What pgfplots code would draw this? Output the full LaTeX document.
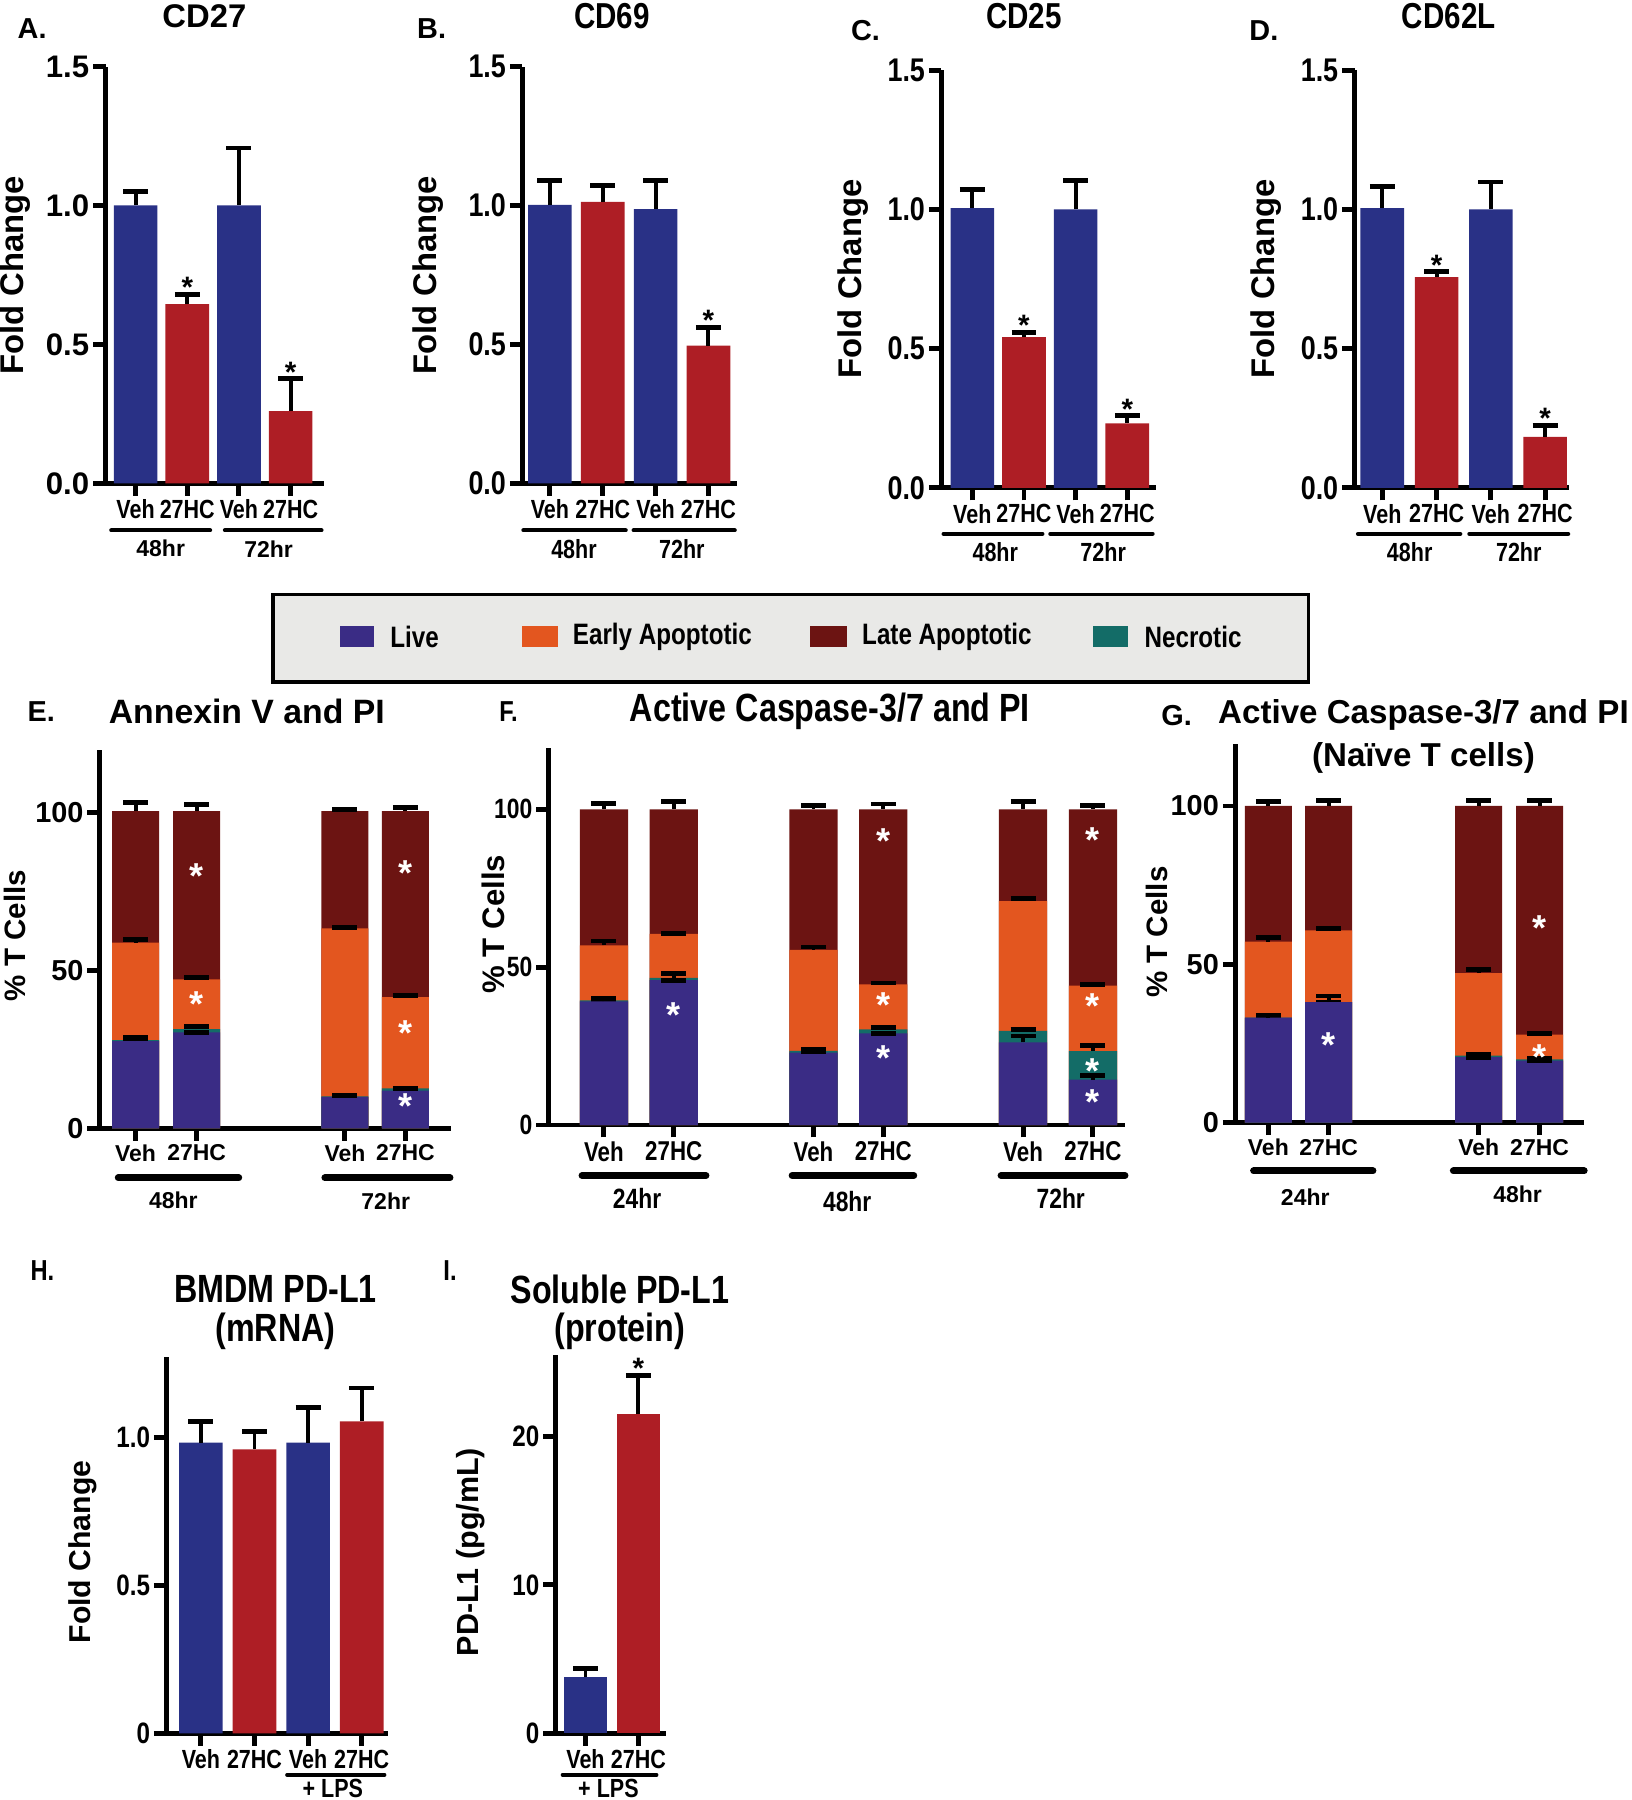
\documentclass[border=0pt]{standalone}
\usepackage{fontspec}
\setmainfont{Liberation Sans}
\newfontfamily\narrow{Liberation Sans}[FakeStretch=0.82]
\usepackage{pgfplots}
\pgfplotsset{compat=1.18}

\definecolor{barblue}{HTML}{293186}
\definecolor{barred}{HTML}{AE1E25}
\definecolor{live}{HTML}{3A2C85}
\definecolor{early}{HTML}{E3561F}
\definecolor{late}{HTML}{6C1412}
\definecolor{necro}{HTML}{136C67}
\definecolor{legbg}{HTML}{E9E9E7}

% font helpers (size in pt)
\newcommand\fnt[1]{\bfseries\fontsize{#1}{#1}\selectfont}
\newcommand\nfnt[1]{\narrow\bfseries\fontsize{#1}{#1}\selectfont}

\pgfplotsset{
  panel/.style={
    scale only axis, anchor=south west, clip=false,
    axis x line*=bottom, axis y line*=left,
    axis line style={-, line width=1.5pt},
    tick align=outside, major tick length=3.8pt,
    tick style={black, line width=1.5pt},
    yticklabel style={inner sep=1pt},
    ymin=0,
  },
  bars/.style={ybar, bar shift=0pt, bar width=#1, draw=none,
    error bars/y dir=plus, error bars/y explicit,
    error bars/error bar style={black, line width=1.2pt},
    error bars/error mark options={rotate=90, black, mark size=3.8pt, line width=1.5pt},
  },
}
\tikzset{
  star/.style={font=\fnt{9}, anchor=base, inner sep=0pt, yshift=-1pt},
  wstar/.style={text=white, font=\fnt{11}, anchor=base, inner sep=0pt, yshift=-6.4pt},
}

\begin{document}
\begin{tikzpicture}[x=0.35pt, y=-0.35pt]
\useasboundingbox (0,0) rectangle (1421,1568);
% axis origins (reference pixel positions)
\coordinate (oA) at (92,421);
\coordinate (oB) at (455,421);
\coordinate (oC) at (820,425);
\coordinate (oD) at (1180,425);
\coordinate (oE) at (87,983);
\coordinate (oF) at (478,980);
\coordinate (oG) at (1076,978);
\coordinate (oH) at (145,1510);
\coordinate (oI) at (484,1510);

% ---------- A. CD27 ----------
\begin{axis}[panel, at={(oA)}, width=66.5pt, height=127.05pt,
  xmin=0.42, xmax=4.64, ymax=1.5,
  xtick={1,2,3,4}, xticklabels={Veh,27HC,Veh,27HC},
  ytick={0,0.5,1,1.5}, yticklabels={0.0,0.5,1.0,1.5},
  yticklabel style={font=\fnt{9.5}},
  xticklabel style={font=\nfnt{8}, inner sep=1pt}]
\addplot[fill=barblue, bars=13.3pt] coordinates {(1,1.0) +- (0,0.05) (3,1.0) +- (0,0.207)};
\addplot[fill=barred, bars=13.3pt] coordinates {(2,0.645) +- (0,0.035) (4,0.26) +- (0,0.116)};
\node[star] at (axis cs:2,0.68) {*};
\node[star] at (axis cs:4,0.376) {*};
\end{axis}

% ---------- B. CD69 ----------
\begin{axis}[panel, at={(oB)}, width=65.45pt, height=127.05pt,
  xmin=0.478, xmax=4.54, ymax=1.5,
  xtick={1,2,3,4}, xticklabels={Veh,27HC,Veh,27HC},
  ytick={0,0.5,1,1.5}, yticklabels={0.0,0.5,1.0,1.5},
  yticklabel style={font=\nfnt{10}},
  xticklabel style={font=\nfnt{8}, inner sep=1pt}]
\addplot[fill=barblue, bars=13.3pt] coordinates {(1,1.002) +- (0,0.087) (3,0.987) +- (0,0.104)};
\addplot[fill=barred, bars=13.3pt] coordinates {(2,1.013) +- (0,0.06) (4,0.496) +- (0,0.065)};
\node[star] at (axis cs:4,0.561) {*};
\end{axis}

% ---------- C. CD25 ----------
\begin{axis}[panel, at={(oC)}, width=65.45pt, height=127.4pt,
  xmin=0.4, xmax=4.556, ymax=1.5,
  xtick={1,2,3,4}, xticklabels={Veh,27HC,Veh,27HC},
  ytick={0,0.5,1,1.5}, yticklabels={0.0,0.5,1.0,1.5},
  yticklabel style={font=\nfnt{10}},
  xticklabel style={font=\nfnt{8}, inner sep=1pt}]
\addplot[fill=barblue, bars=13.3pt] coordinates {(1,1.004) +- (0,0.066) (3,1.0) +- (0,0.105)};
\addplot[fill=barred, bars=13.3pt] coordinates {(2,0.541) +- (0,0.017) (4,0.232) +- (0,0.027)};
\node[star] at (axis cs:2,0.558) {*};
\node[star] at (axis cs:4,0.259) {*};
\end{axis}

% ---------- D. CD62L ----------
\begin{axis}[panel, at={(oD)}, width=65.45pt, height=127.4pt,
  xmin=0.49, xmax=4.444, ymax=1.5,
  xtick={1,2,3,4}, xticklabels={Veh,27HC,Veh,27HC},
  ytick={0,0.5,1,1.5}, yticklabels={0.0,0.5,1.0,1.5},
  yticklabel style={font=\nfnt{10}},
  xticklabel style={font=\nfnt{8}, inner sep=1pt}]
\addplot[fill=barblue, bars=13.3pt] coordinates {(1,1.004) +- (0,0.079) (3,1.0) +- (0,0.098)};
\addplot[fill=barred, bars=13.3pt] coordinates {(2,0.757) +- (0,0.019) (4,0.183) +- (0,0.041)};
\node[star] at (axis cs:2,0.776) {*};
\node[star] at (axis cs:4,0.224) {*};
\end{axis}

% ---------- E. Annexin V and PI ----------
\begin{axis}[panel, at={(oE)}, width=107.1pt, height=115.5pt,
  xmin=0.415, xmax=6.17, ymax=120,
  xtick={1,2,4.43,5.42}, xticklabels={Veh,27HC,Veh,27HC},
  ytick={0,50,100}, yticklabels={0,50,100},
  yticklabel style={font=\fnt{8.8}},
  xticklabel style={font=\fnt{7}, inner sep=1pt}]
\addplot[fill=late, bars=14.35pt] coordinates {(1,100.5) +- (0,2.8) (2,100.5) +- (0,2.2) (4.43,100.5) +- (0,0.4) (5.42,100.5) +- (0,1.1)};
\addplot[fill=early, bars=14.35pt] coordinates {(1,58.9) +- (0,1.1) (2,47.2) +- (0,0.5) (4.43,63.4) +- (0,0.3) (5.42,41.6) +- (0,0.4)};
\addplot[fill=necro, bars=14.35pt] coordinates {(1,28.0) +- (0,0) (2,31.5) +- (0,0.8) (4.43,10.2) +- (0,0) (5.42,12.7) +- (0,0)};
\addplot[fill=live, bars=14.35pt] coordinates {(1,27.7) +- (0,1.1) (2,30.4) +- (0,0) (4.43,10.0) +- (0,0.4) (5.42,12.0) +- (0,0.5)};
\node[wstar] at (axis cs:2,82.6) {*};
\node[wstar] at (axis cs:2,42) {*};
\node[wstar] at (axis cs:5.42,83.7) {*};
\node[wstar] at (axis cs:5.42,33) {*};
\node[wstar] at (axis cs:5.42,9.8) {*};
\end{axis}

% ---------- F. Active Caspase-3/7 and PI ----------
\begin{axis}[panel, at={(oF)}, width=175.7pt, height=114.8pt,
  xmin=0.21, xmax=8.46, ymax=119.3,
  xtick={1,2,4,5,7,8}, xticklabels={Veh,27HC,Veh,27HC,Veh,27HC},
  ytick={0,50,100}, yticklabels={0,50,100},
  yticklabel style={font=\nfnt{8.5}},
  xticklabel style={font=\nfnt{8.3}, inner sep=1pt}]
\addplot[fill=late, bars=14.7pt] coordinates {(1,100) +- (0,1.9) (2,100) +- (0,2.4) (4,100) +- (0,1.1) (5,100) +- (0,1.7) (7,100) +- (0,2.4) (8,100) +- (0,1.3)};
\addplot[fill=early, bars=14.7pt] coordinates {(1,56.9) +- (0,1.4) (2,60.6) +- (0,0.2) (4,55.5) +- (0,0.9) (5,44.6) +- (0,0.4) (7,70.9) +- (0,0.9) (8,44.2) +- (0,0.3)};
\addplot[fill=necro, bars=14.7pt] coordinates {(1,39.5) +- (0,0) (2,46.6) +- (0,1.5) (4,23.5) +- (0,0.3) (5,30.3) +- (0,0.6) (7,29.8) +- (0,0.4) (8,23.4) +- (0,1.7)};
\addplot[fill=live, bars=14.7pt] coordinates {(1,39.2) +- (0,0.8) (2,45.9) +- (0,0) (4,22.9) +- (0,0.4) (5,29.0) +- (0,0) (7,26.2) +- (0,2.0) (8,14.4) +- (0,1.4)};
\node[wstar] at (axis cs:2,37.6) {*};
\node[wstar] at (axis cs:5,92.8) {*};
\node[wstar] at (axis cs:5,40.6) {*};
\node[wstar] at (axis cs:5,24) {*};
\node[wstar] at (axis cs:8,93) {*};
\node[wstar] at (axis cs:8,40.3) {*};
\node[wstar] at (axis cs:8,19.9) {*};
\node[wstar] at (axis cs:8,9.9) {*};
\end{axis}

% ---------- G. Naive T cells ----------
\begin{axis}[panel, at={(oG)}, width=106.4pt, height=115.5pt,
  xmin=0.45, xmax=6.24, ymax=119.6,
  xtick={1,2,4.49,5.5}, xticklabels={Veh,27HC,Veh,27HC},
  ytick={0,50,100}, yticklabels={0,50,100},
  yticklabel style={font=\fnt{8.8}},
  xticklabel style={font=\fnt{7}, inner sep=1pt}]
\addplot[fill=late, bars=14.35pt] coordinates {(1,100) +- (0,1.3) (2,100) +- (0,1.6) (4.49,100) +- (0,1.6) (5.5,100) +- (0,1.6)};
\addplot[fill=early, bars=14.35pt] coordinates {(1,57.2) +- (0,1.3) (2,60.7) +- (0,0.6) (4.49,47.2) +- (0,1.3) (5.5,27.8) +- (0,0.5)};
\addplot[fill=necro, bars=14.35pt] coordinates {(1,33.2) +- (0,0) (2,38.1) +- (0,0) (4.49,21.2) +- (0,0.3) (5.5,20.0) +- (0,0.2)};
\addplot[fill=live, bars=14.35pt] coordinates {(1,33.2) +- (0,0.8) (2,38.1) +- (0,1.9) (4.49,20.7) +- (0,0) (5.5,19.6) +- (0,0)};
\node[wstar] at (axis cs:2,27.2) {*};
\node[wstar] at (axis cs:5.5,64.3) {*};
\node[wstar] at (axis cs:5.5,23.4) {*};
\end{axis}

% ---------- H. BMDM PD-L1 ----------
\begin{axis}[panel, at={(oH)}, width=67.55pt, height=114.8pt,
  xmin=0.357, xmax=4.49, ymax=1.271,
  xtick={1,2,3,4}, xticklabels={Veh,27HC,Veh,27HC},
  ytick={0,0.5,1}, yticklabels={0,0.5,1.0},
  yticklabel style={font=\nfnt{9}},
  xticklabel style={font=\nfnt{8}, inner sep=1pt}]
\addplot[fill=barblue, bars=13.3pt] coordinates {(1,0.982) +- (0,0.071) (3,0.982) +- (0,0.119)};
\addplot[fill=barred, bars=13.3pt] coordinates {(2,0.959) +- (0,0.059) (4,1.053) +- (0,0.113)};
\end{axis}

% ---------- I. Soluble PD-L1 ----------
\begin{axis}[panel, at={(oI)}, width=33.6pt, height=115.5pt,
  xmin=0.435, xmax=2.52, ymax=25.5,
  xtick={1,2}, xticklabels={Veh,27HC},
  ytick={0,10,20}, yticklabels={0,10,20},
  yticklabel style={font=\nfnt{9}},
  xticklabel style={font=\nfnt{8}, inner sep=1pt}]
\addplot[fill=barblue, bars=12.95pt] coordinates {(1,3.8) +- (0,0.6)};
\addplot[fill=barred, bars=12.95pt] coordinates {(2,21.5) +- (0,2.6)};
\node[star] at (axis cs:2,24.1) {*};
\end{axis}

% ---------- titles, letters, y labels ----------
\node[font=\fnt{8.8}] at (28,25) {A.};
\node[font=\fnt{10}] at (178,14) {CD27};
\node[font=\fnt{8.8}] at (376,25) {B.};
\node[font=\nfnt{11}] at (533,14) {CD69};
\node[font=\fnt{8.8}] at (754,27) {C.};
\node[font=\nfnt{11}] at (892,14) {CD25};
\node[font=\fnt{8.8}] at (1101,27) {D.};
\node[font=\nfnt{11}] at (1262,14) {CD62L};
\foreach \px/\py in {13/240, 373/240, 743/243, 1103/243}
  \node[rotate=90, font=\fnt{10}] at (\px,\py) {Fold Change};

\node[font=\fnt{8.8}] at (36,620) {E.};
\node[font=\fnt{10.3}] at (215,620) {Annexin V and PI};
\node[rotate=90, font=\fnt{9}] at (13,815) {\% T Cells};
\node[font=\nfnt{8.8}] at (443,620) {F.};
\node[font=\nfnt{12}] at (723,620) {Active Caspase-3/7 and PI};
\node[rotate=90, font=\fnt{9.5}] at (430,805) {\% T Cells};
\node[font=\fnt{8.8}] at (1025,623) {G.};
\node[font=\fnt{10.1}] at (1240,623) {Active Caspase-3/7 and PI};
\node[font=\fnt{10.1}] at (1240,660) {(Naïve T cells)};
\node[rotate=90, font=\fnt{9}] at (1008,812) {\% T Cells};

\node[font=\nfnt{8.8}] at (37,1107) {H.};
\node[font=\nfnt{12}] at (240,1123) {BMDM PD-L1};
\node[font=\nfnt{12}] at (240,1160) {(mRNA)};
\node[rotate=90, font=\fnt{9.2}] at (72,1352) {Fold Change};
\node[font=\nfnt{8.8}] at (392,1107) {I.};
\node[font=\nfnt{12}] at (540,1123) {Soluble PD-L1};
\node[font=\nfnt{12}] at (540,1160) {(protein)};
\node[rotate=90, font=\fnt{9.3}] at (410,1352) {PD-L1 (pg/mL)};

% ---------- group lines and time labels ----------
\begin{scope}[line width=1.3pt, line cap=round]
  \draw (97,462) -- (183,462); \draw (196,462) -- (280,462);
  \draw (456,462) -- (545,462); \draw (552,462) -- (640,462);
  \draw (822,465) -- (908,465); \draw (915,465) -- (1004,465);
  \draw (1183,465) -- (1272,465); \draw (1280,465) -- (1366,465);
\end{scope}
\node[font=\fnt{7}] at (140,478) {48hr};
\node[font=\fnt{7}] at (234,478) {72hr};
\node[font=\nfnt{8}] at (500,478) {48hr};
\node[font=\nfnt{8}] at (594,478) {72hr};
\node[font=\nfnt{8}] at (867,481) {48hr};
\node[font=\nfnt{8}] at (961,481) {72hr};
\node[font=\nfnt{8}] at (1228,481) {48hr};
\node[font=\nfnt{8}] at (1323,481) {72hr};

\begin{scope}[line width=2.1pt, line cap=round]
  \draw (103,1026) -- (208,1026); \draw (283,1026) -- (392,1026);
  \draw (507,1024) -- (615,1024); \draw (690,1024) -- (796,1024); \draw (872,1024) -- (980,1024);
  \draw (1092,1020) -- (1196,1020); \draw (1266,1020) -- (1380,1020);
\end{scope}
\node[font=\fnt{7}] at (151,1046) {48hr};
\node[font=\fnt{7}] at (336,1046) {72hr};
\node[font=\nfnt{8.5}] at (555,1044) {24hr};
\node[font=\nfnt{8.5}] at (738,1047) {48hr};
\node[font=\nfnt{8.5}] at (924,1044) {72hr};
\node[font=\fnt{7}] at (1137,1043) {24hr};
\node[font=\fnt{7}] at (1322,1040) {48hr};

\begin{scope}[line width=1.1pt, line cap=round]
  \draw (250,1546) -- (335,1546);
  \draw (490,1546) -- (572,1546);
\end{scope}
\node[font=\nfnt{8}, inner sep=0pt] at (290,1558) {+ LPS};
\node[font=\nfnt{8}, inner sep=0pt] at (530,1558) {+ LPS};

% ---------- shared legend ----------
\draw[fill=legbg, line width=1.1pt] (238,518) rectangle (1140,594);
\fill[live] (296,545) rectangle (326,564);
\fill[early] (455,545) rectangle (486,564);
\fill[late] (706,545) rectangle (738,564);
\fill[necro] (952,545) rectangle (983,564);
\node[font=\nfnt{9}, anchor=west] at (330,555) {Live};
\node[font=\nfnt{9}, anchor=west] at (489,555) {Early Apoptotic};
\node[font=\nfnt{9}, anchor=west] at (741,555) {Late Apoptotic};
\node[font=\nfnt{9}, anchor=west] at (987,555) {Necrotic};
\end{tikzpicture}
\end{document}
